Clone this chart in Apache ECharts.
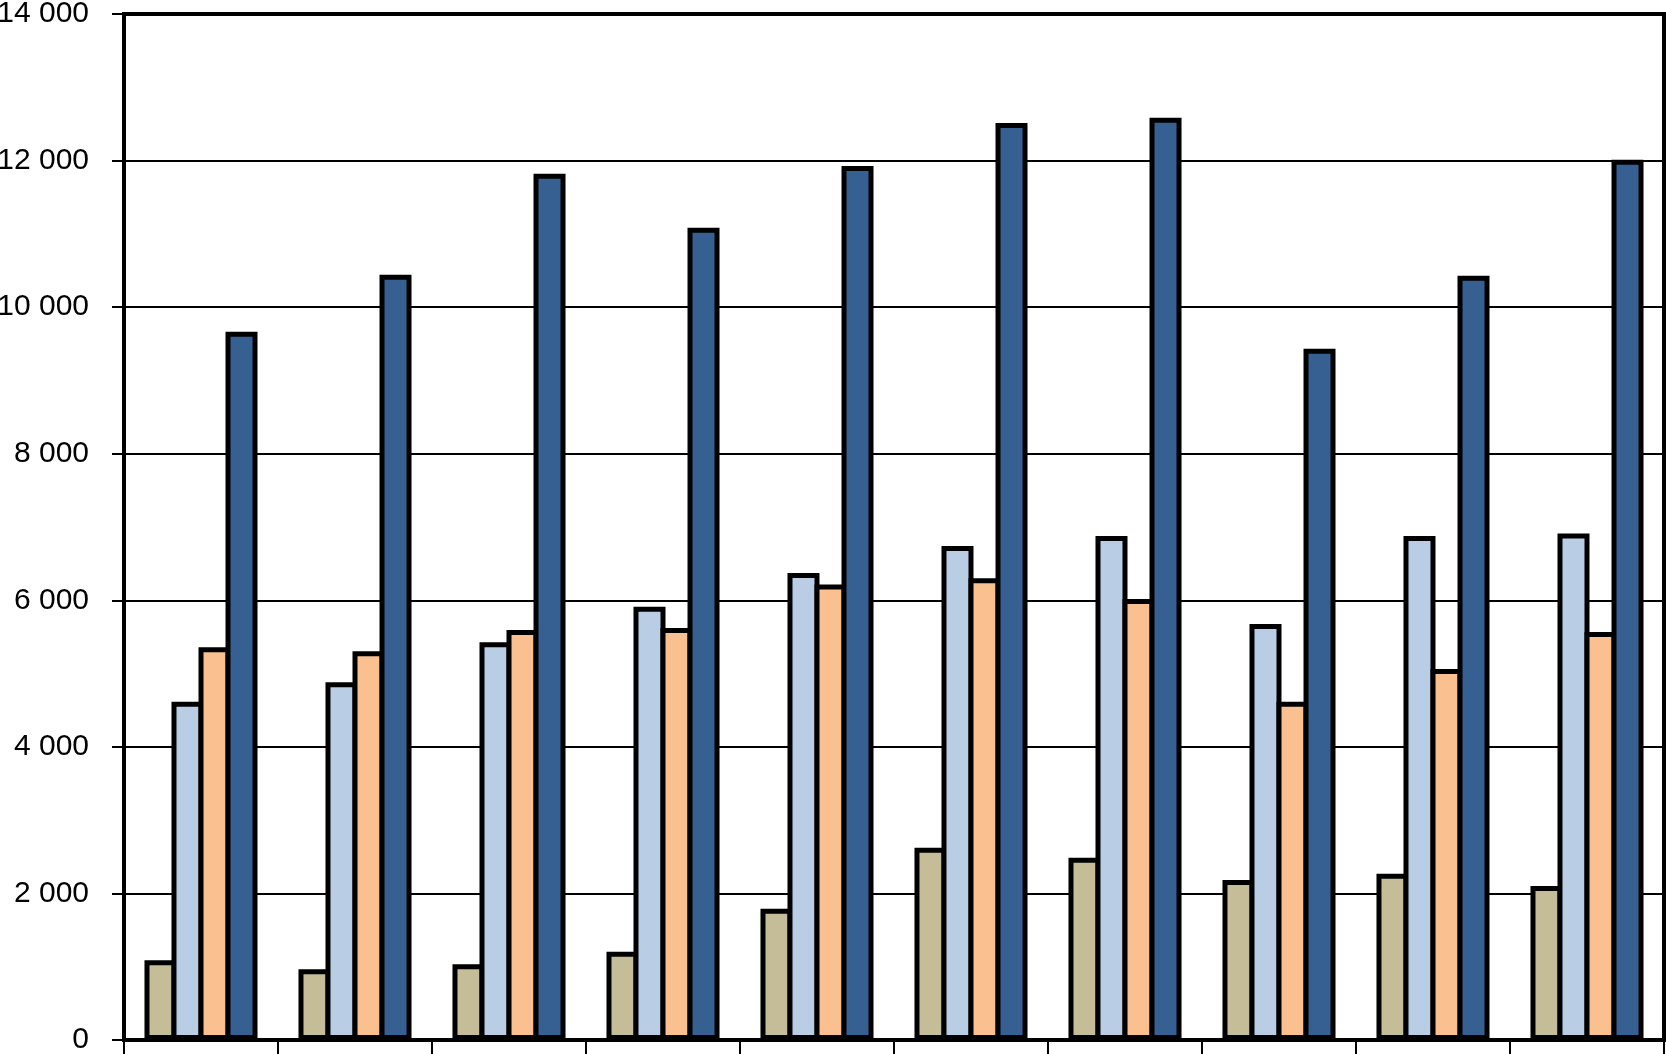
<!DOCTYPE html>
<html>
<head>
<meta charset="utf-8">
<script src="https://cdn.jsdelivr.net/npm/echarts@6/dist/echarts.min.js"></script>
<style>
html,body{margin:0;padding:0;background:#fff;}
#chart{width:1666px;height:1054px;}
</style>
</head>
<body>
<div id="chart"></div>
<script>
const categories = ['1','2','3','4','5','6','7','8','9','10'];
const seriesNames = ['Series 1','Series 2','Series 3','Series 4'];
const tanValues = [1087, 967, 1032, 1205, 1791, 2624, 2487, 2183, 2269, 2101];
const lightBlueValues = [4616, 4880, 5426, 5912, 6372, 6740, 6877, 5676, 6877, 6913];
const orangeValues = [5358, 5303, 5594, 5621, 6217, 6299, 6017, 4616, 5062, 5567];
const darkBlueValues = [9664, 10442, 11820, 11083, 11925, 12512, 12584, 9432, 10428, 12011];
const yTicks = [0, 2000, 4000, 6000, 8000, 10000, 12000, 14000];

const colors = ['#C4BD97', '#B9CDE5', '#FAC090', '#376092'];
const allValues = [tanValues, lightBlueValues, orangeValues, darkBlueValues];

function fmt(v){ return String(v).replace(/\B(?=(\d{3})+(?!\d))/g, ' '); }

const chart = echarts.init(document.getElementById('chart'), null, {renderer:'canvas'});
chart.setOption({
  backgroundColor: '#ffffff',
  animation: false,
  grid: {left:124, top:14, right:2, bottom:14, containLabel:false, outerBoundsMode:'none',
         show:true, borderColor:'#000', borderWidth:4, backgroundColor:'transparent'},
  xAxis: {
    type: 'category',
    data: categories,
    boundaryGap: true,
    axisLine: {show:true, lineStyle:{color:'#000', width:4}},
    axisTick: {show:true, inside:false, length:14, lineStyle:{color:'#000', width:2}},
    axisLabel: {show:false},
    splitLine: {show:false}
  },
  yAxis: {
    type: 'value',
    min: yTicks[0],
    max: yTicks[yTicks.length-1],
    interval: 2000,
    axisLine: {show:true, lineStyle:{color:'#000', width:4}},
    axisTick: {show:true, inside:false, length:12, lineStyle:{color:'#000', width:2}},
    axisLabel: {
      show:true, margin:35, color:'#000',
      fontFamily:'"Liberation Sans", Arial, sans-serif',
      fontSize:30,
      formatter: v => fmt(v)
    },
    splitLine: {show:true, lineStyle:{color:'#000', width:2}}
  },
  series: allValues.map((vals, i) => ({
    name: seriesNames[i],
    type: 'bar',
    data: vals,
    barWidth: 32,
    barGap: '-15.6%',
    itemStyle: {color: colors[i], borderColor:'#000', borderWidth:5}
  }))
});
</script>
</body>
</html>
